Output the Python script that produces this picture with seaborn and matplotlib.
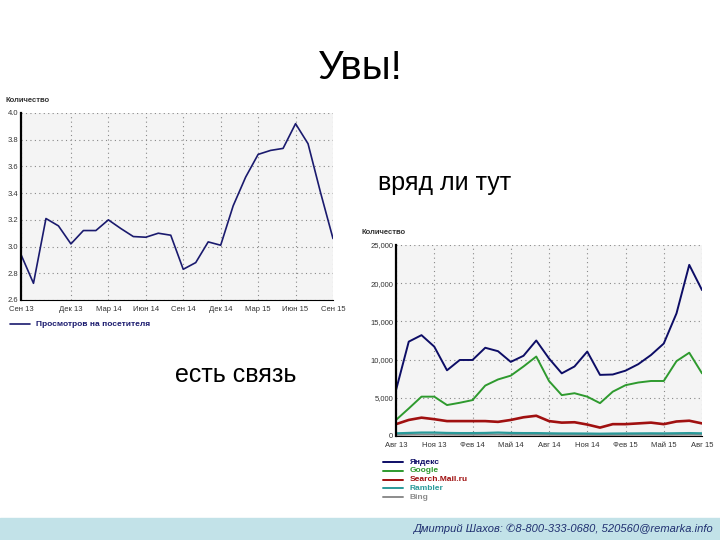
import numpy as np
import pandas as pd
import matplotlib
matplotlib.use("Agg")
import matplotlib.pyplot as plt
import seaborn as sns

# Left chart: page views per visitor
left_values = [2.94, 2.725, 3.21, 3.155, 3.02, 3.12, 3.12, 3.20, 3.135, 3.075,
               3.07, 3.10, 3.085, 2.83, 2.88, 3.035, 3.01, 3.305, 3.52, 3.69,
               3.72, 3.735, 3.92, 3.77, 3.405, 3.06]
left_tick_pos = [0, 4, 7, 10, 13, 16, 19, 22, 25]
left_tick_labels = ["Сен 13", "Дек 13", "Мар 14", "Июн 14", "Сен 14",
                    "Дек 14", "Мар 15", "Июн 15", "Сен 15"]
left_yticks = [2.6, 2.8, 3.0, 3.2, 3.4, 3.6, 3.8, 4.0]

# Right chart: visits by search engine, monthly Aug 13 .. Aug 15
yandex = [6000, 12350, 13200, 11700, 8600, 9950, 9950, 11550, 11100, 9700,
          10500, 12500, 10150, 8200, 9100, 11050, 8000, 8050, 8550, 9400,
          10600, 12100, 16050, 22400, 19100]
google = [2100, 3600, 5150, 5150, 4050, 4350, 4700, 6600, 7400, 7900,
          9100, 10400, 7200, 5350, 5600, 5150, 4300, 5800, 6650, 7000,
          7200, 7200, 9800, 10900, 8200]
mailru = [1550, 2100, 2400, 2200, 1950, 1950, 1950, 1950, 1850, 2100,
          2450, 2650, 1950, 1750, 1800, 1500, 1100, 1550, 1550, 1650,
          1750, 1550, 1900, 2000, 1650]
rambler = [350, 400, 450, 450, 400, 380, 380, 400, 450, 400,
           380, 380, 350, 330, 330, 320, 300, 320, 330, 340,
           350, 340, 360, 380, 350]
bing = [150, 180, 200, 200, 180, 170, 170, 180, 190, 180,
        170, 170, 160, 150, 150, 140, 130, 140, 150, 160,
        160, 150, 170, 180, 170]
right_tick_pos = [0, 3, 6, 9, 12, 15, 18, 21, 24]
right_tick_labels = ["Авг 13", "Ноя 13", "Фев 14", "Май 14", "Авг 14",
                     "Ноя 14", "Фев 15", "Май 15", "Авг 15"]
right_yticks = [0, 5000, 10000, 15000, 20000, 25000]
engines = ["Яндекс", "Google", "Search.Mail.ru", "Rambler", "Bing"]
engine_colors = ["#0d0d66", "#2e9a2e", "#a01010", "#2a9a9a", "#8c8c8c"]
engine_widths = [1.4, 1.4, 1.9, 1.6, 1.4]

sns.set_style("white")
plt.rcParams['font.family'] = ['Liberation Sans', 'DejaVu Sans']

fig = plt.figure(figsize=(7.2, 5.4), dpi=100)
W, H = 720, 540


def px_axes(x0, y0, x1, y1):
    return fig.add_axes([x0 / W, 1 - y1 / H, (x1 - x0) / W, (y1 - y0) / H])


def style_chart(ax):
    ax.set_facecolor("#f4f4f4")
    for s in ["top", "right"]:
        ax.spines[s].set_visible(False)
    ax.spines["left"].set_color("black")
    ax.spines["bottom"].set_color("black")
    ax.spines["left"].set_linewidth(1.6)
    ax.spines["bottom"].set_linewidth(0.8)
    ax.grid(True, color="#888888", linestyle=(0, (1, 3)), linewidth=0.8)
    ax.tick_params(axis="both", labelsize=5.5, length=0, colors="#333333")
    ax.tick_params(axis="x", pad=4)
    ax.tick_params(axis="y", pad=2)
    ax.set_xlabel("")
    ax.set_ylabel("")


# ---- left chart
ax1 = px_axes(21, 113, 333, 300)
df_left = pd.DataFrame({"idx": np.arange(len(left_values)), "val": left_values})
sns.lineplot(data=df_left, x="idx", y="val", ax=ax1, color="#1a1a6e", linewidth=1.2)
ax1.set_xlim(0, len(left_values) - 1)
ax1.set_ylim(2.6, 4.0)
ax1.set_xticks(left_tick_pos)
ax1.set_xticklabels(left_tick_labels)
ax1.set_yticks(left_yticks)
ax1.set_yticklabels([f"{v:.1f}" for v in left_yticks])
style_chart(ax1)
fig.text(5 / W, 1 - 101 / H, "Количество", fontsize=5.5, fontweight="bold",
         color="#333333", va="center")
fig.add_artist(plt.Line2D([10 / W, 30 / W], [1 - 324 / H] * 2, color="#1a1a6e", lw=1.2))
fig.text(36 / W, 1 - 324 / H, "Просмотров на посетителя", fontsize=6,
         fontweight="bold", color="#1a1a6e", va="center")

# ---- right chart
ax2 = px_axes(396, 245, 702, 436)
df_right = pd.DataFrame({
    "idx": np.tile(np.arange(len(yandex)), 5),
    "val": yandex + google + mailru + rambler + bing,
    "engine": np.repeat(engines, len(yandex)),
})
for name, col, lw in list(zip(engines, engine_colors, engine_widths))[::-1]:
    sns.lineplot(data=df_right[df_right["engine"] == name], x="idx", y="val",
                 ax=ax2, color=col, linewidth=lw)
ax2.set_xlim(0, len(yandex) - 1)
ax2.set_ylim(0, 25000)
ax2.set_xticks(right_tick_pos)
ax2.set_xticklabels(right_tick_labels)
ax2.set_yticks(right_yticks)
ax2.set_yticklabels([f"{v:,}" for v in right_yticks])
style_chart(ax2)
fig.text(362 / W, 1 - 232 / H, "Количество", fontsize=5.5, fontweight="bold",
         color="#333333", va="center")
for i, (name, col) in enumerate(zip(engines, engine_colors)):
    yy = 1 - (462 + i * 8.8) / H
    fig.add_artist(plt.Line2D([383 / W, 403 / W], [yy, yy], color=col, lw=1.4))
    fig.text(410 / W, yy, name, fontsize=6, fontweight="bold", color=col, va="center")

# ---- slide text
fig.text(360 / W, 1 - 68 / H, "Увы!", fontsize=29, ha="center", va="center", color="black")
fig.text(378 / W, 1 - 183 / H, "вряд ли тут", fontsize=18, ha="left", va="center", color="black")
fig.text(175 / W, 1 - 375 / H, "есть связь", fontsize=18, ha="left", va="center", color="black")

# footer band
fig.add_artist(plt.Rectangle((0, 0), 1, 22 / H, color="#c2e2e8", transform=fig.transFigure))
fig.text(713 / W, 11 / H, "Дмитрий Шахов: ✆8-800-333-0680, 520560@remarka.info",
         fontsize=8, fontstyle="italic", color="#1f2f70", ha="right", va="center",
         family=['Liberation Sans', 'DejaVu Sans'])

fig.savefig("out.png", dpi=100)
